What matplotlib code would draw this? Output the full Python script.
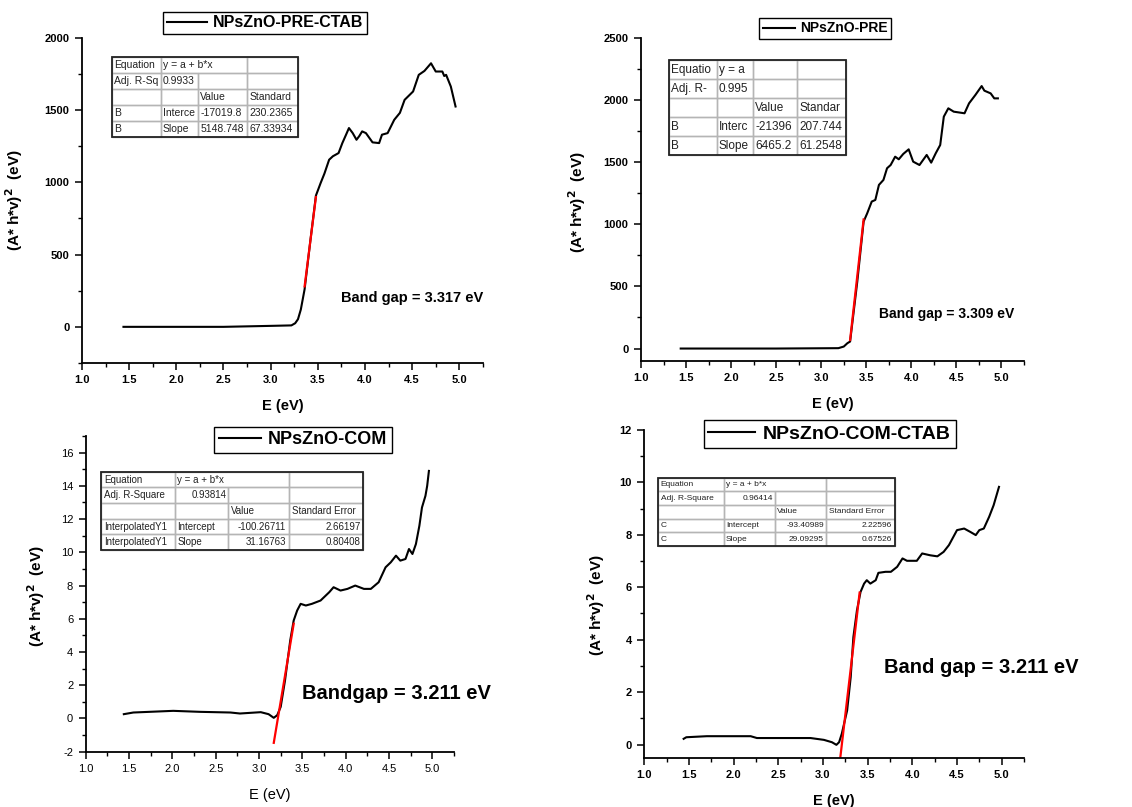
import numpy as np
import matplotlib.pyplot as plt
from matplotlib.patches import Rectangle
from matplotlib.ticker import MultipleLocator

plt.rcParams['font.family'] = ['Liberation Sans', 'DejaVu Sans']
plt.rcParams['axes.unicode_minus'] = False

# ---- NPsZnO-PRE-CTAB (top left)
e_pre_ctab = [1.44, 2.0, 2.5, 3.02, 3.22, 3.26, 3.29, 3.32, 3.34, 3.36, 3.42, 3.48, 3.53, 3.57,
              3.62, 3.66, 3.72, 3.76, 3.80, 3.83, 3.87, 3.91, 3.94, 3.97, 4.01, 4.08, 4.15,
              4.18, 4.24, 4.31, 4.37, 4.42, 4.51, 4.57, 4.63, 4.70, 4.75, 4.82, 4.84, 4.86,
              4.91, 4.96]
y_pre_ctab = [0, 0, 0, 7, 10, 25, 53, 120, 190, 260, 590, 908, 995, 1060,
              1156, 1180, 1202, 1271, 1330, 1375, 1340, 1294, 1320, 1352, 1340, 1276, 1271,
              1329, 1340, 1432, 1480, 1570, 1628, 1743, 1770, 1823, 1766, 1766, 1735, 1743,
              1662, 1524]
fit_pre_ctab = (-17019.8, 5148.748)
span_pre_ctab = (3.36, 3.48)
tab_pre_ctab = [["Equation", "y = a + b*x", "", ""],
                ["Adj. R-Sq", "0.9933", "", ""],
                ["", "", "Value", "Standard"],
                ["B", "Interce", "-17019.8", "230.2365"],
                ["B", "Slope", "5148.748", "67.33934"]]

# ---- NPsZnO-PRE (top right)
e_pre = [1.44, 2.5, 3.19, 3.25, 3.29, 3.32, 3.40, 3.47, 3.51, 3.56, 3.60, 3.64, 3.69,
         3.73, 3.77, 3.82, 3.86, 3.91, 3.97, 4.02, 4.09, 4.17, 4.22, 4.27, 4.32, 4.36,
         4.41, 4.47, 4.59, 4.64, 4.71, 4.78, 4.81, 4.88, 4.92, 4.96]
y_pre = [0, 0, 3, 16, 43, 56, 540, 1021, 1088, 1182, 1195, 1316, 1356,
         1450, 1476, 1543, 1522, 1565, 1602, 1503, 1476, 1557, 1495, 1570, 1637, 1865,
         1932, 1905, 1892, 1972, 2039, 2111, 2074, 2052, 2012, 2012]
fit_pre = (-21396, 6465.2)
span_pre = (3.32, 3.47)
tab_pre = [["Equatio", "y = a", "", ""],
           ["Adj. R-", "0.995", "", ""],
           ["", "", "Value", "Standar"],
           ["B", "Interc", "-21396", "207.744"],
           ["B", "Slope", "6465.2", "61.2548"]]

# ---- NPsZnO-COM (bottom left)
e_com = [1.44, 1.55, 2.01, 2.32, 2.67, 2.78, 3.02, 3.11, 3.17, 3.21, 3.25, 3.30, 3.36,
         3.40, 3.44, 3.48, 3.54, 3.61, 3.71, 3.81, 3.86, 3.94, 4.02, 4.11, 4.21, 4.29,
         4.38, 4.46, 4.52, 4.58, 4.63, 4.69, 4.73, 4.77, 4.81, 4.85, 4.88, 4.92, 4.94, 4.96]
y_com = [0.26, 0.36, 0.46, 0.40, 0.36, 0.30, 0.38, 0.26, 0.04, 0.2, 0.7, 2.3, 4.7,
         5.9, 6.5, 6.9, 6.8, 6.9, 7.1, 7.6, 7.9, 7.7, 7.8, 8.0, 7.8, 7.8,
         8.2, 9.1, 9.4, 9.8, 9.5, 9.6, 10.2, 9.9, 10.5, 11.6, 12.7, 13.4, 14.0, 14.9]
fit_com = (-100.26711, 31.16763)
span_com = (3.17, 3.40)
tab_com = [["Equation", "y = a + b*x", "", ""],
           ["Adj. R-Square", "0.93814", "", ""],
           ["", "", "Value", "Standard Error"],
           ["InterpolatedY1", "Intercept", "-100.26711", "2.66197"],
           ["InterpolatedY1", "Slope", "31.16763", "0.80408"]]

# ---- NPsZnO-COM-CTAB (bottom right)
e_com_ctab = [1.44, 1.47, 1.70, 2.19, 2.26, 2.86, 3.01, 3.10, 3.15, 3.18, 3.21, 3.27, 3.31,
              3.34, 3.38, 3.42, 3.46, 3.49, 3.53, 3.59, 3.62, 3.70, 3.76, 3.83, 3.89, 3.94,
              4.05, 4.11, 4.20, 4.28, 4.35, 4.41, 4.50, 4.58, 4.65, 4.71, 4.75, 4.80, 4.86,
              4.91, 4.97]
y_com_ctab = [0.22, 0.28, 0.32, 0.32, 0.25, 0.25, 0.18, 0.09, -0.01, 0.09, 0.41, 1.30, 2.57,
              4.10, 5.12, 5.82, 6.14, 6.27, 6.14, 6.27, 6.55, 6.59, 6.59, 6.78, 7.10, 7.01,
              7.01, 7.29, 7.22, 7.18, 7.35, 7.61, 8.18, 8.24, 8.11, 7.99, 8.18, 8.24, 8.69,
              9.13, 9.83]
fit_com_ctab = (-93.40989, 29.09295)
span_com_ctab = (3.195, 3.41)
tab_com_ctab = [["Equation", "y = a + b*x", "", ""],
                ["Adj. R-Square", "0.96414", "", ""],
                ["", "", "Value", "Standard Error"],
                ["C", "Intercept", "-93.40989", "2.22596"],
                ["C", "Slope", "29.09295", "0.67526"]]


def is_num(s):
    try:
        float(s)
        return True
    except ValueError:
        return False


def draw_table(ax, rows, bbox, col_w, size, num_right):
    # white background, then transparent cells so long text can spill over
    ax.add_patch(Rectangle((bbox[0], bbox[1]), bbox[2], bbox[3], transform=ax.transAxes,
                           fc='white', ec='none', zorder=2.9, clip_on=False))
    tb = ax.table(cellText=rows, bbox=bbox, colWidths=col_w, cellLoc='left', zorder=3)
    tb.auto_set_font_size(False)
    tb.set_fontsize(size)
    merge = rows[0][2] == "" and len(rows[0][1]) > 6
    for (r, c), cell in tb.get_celld().items():
        cell.set_edgecolor('#b5b5b5')
        cell.set_facecolor('none')
        cell.set_linewidth(1.0)
        cell.PAD = 0.04
        txt = cell.get_text()
        txt.set_color('#222222')
        if num_right and is_num(txt.get_text()):
            txt.set_ha('right')
        if merge and r == 0 and c == 1:
            cell.visible_edges = 'LTB'
        if merge and r == 0 and c == 2:
            cell.visible_edges = 'TBR'
    ax.add_patch(Rectangle((bbox[0], bbox[1]), bbox[2], bbox[3], transform=ax.transAxes,
                           fill=False, ec='#222222', lw=1.3, zorder=4, clip_on=False))


def style_axes(ax, ylim, ymaj, ymin, bold=True):
    ax.set_xlim(1.0, 5.25)
    ax.set_ylim(*ylim)
    for s in ['top', 'right']:
        ax.spines[s].set_visible(False)
    for s in ['left', 'bottom']:
        ax.spines[s].set_linewidth(1.3)
    ax.xaxis.set_major_locator(MultipleLocator(0.5))
    ax.xaxis.set_minor_locator(MultipleLocator(0.25))
    ax.yaxis.set_major_locator(MultipleLocator(ymaj))
    ax.yaxis.set_minor_locator(MultipleLocator(ymin))
    ax.tick_params(which='major', direction='out', length=5, width=1.1, labelsize=8, pad=4)
    ax.tick_params(which='minor', direction='out', length=3, width=1.0)
    ax.xaxis.set_major_formatter(lambda v, p: f"{v:.1f}")
    if bold:
        plt.setp(ax.get_xticklabels() + ax.get_yticklabels(), fontweight='bold')


fig = plt.figure(figsize=(11.32, 8.07), dpi=100)

panels = [
    dict(e=e_pre_ctab, y=y_pre_ctab, fit=fit_pre_ctab, span=span_pre_ctab, tab=tab_pre_ctab,
         name='NPsZnO-PRE-CTAB', rect=[0.0724, 0.5502, 0.3542, 0.4031],
         ylim=(-250, 2000), ymaj=500, ymin=250, bold=True,
         tbox=[0.0748, 0.6947, 0.4638, 0.2459], tcol=[147, 112, 146, 152], tsize=7.5, tright=False,
         leg=(0.2341, 0.9715), lsize=11.5, hlen=2.5,
         gap='Band gap = 3.317 eV', gpos=(3.75, 200), gsize=10.5,
         ylc=(-0.142, 0.5)),
    dict(e=e_pre, y=y_pre, fit=fit_pre, span=span_pre, tab=tab_pre,
         name='NPsZnO-PRE', rect=[0.5663, 0.5527, 0.3383, 0.4006],
         ylim=(-100, 2500), ymaj=500, ymin=250, bold=True,
         tbox=[0.0739, 0.6363, 0.4606, 0.2938], tcol=[144, 108, 132, 145], tsize=8.5, tright=False,
         leg=(0.7292, 0.9647), lsize=10, hlen=2.3,
         gap='Band gap = 3.309 eV', gpos=(3.645, 276), gsize=10,
         ylc=(-0.138, 0.49)),
    dict(e=e_com, y=y_com, fit=fit_com, span=span_com, tab=tab_com,
         name='NPsZnO-COM', rect=[0.0757, 0.0685, 0.3254, 0.3912],
         ylim=(-2, 17), ymaj=2, ymin=1, bold=False,
         tbox=[0.0415, 0.6389, 0.7122, 0.248], tcol=[222, 160, 181, 224], tsize=7, tright=True,
         leg=(0.2677, 0.4548), lsize=13, hlen=2.3,
         gap='Bandgap = 3.211 eV', gpos=(3.497, 1.51), gsize=14.5,
         ylc=(-0.105, 0.494)),
    dict(e=e_com_ctab, y=y_com_ctab, fit=fit_com_ctab, span=span_com_ctab, tab=tab_com_ctab,
         name='NPsZnO-COM-CTAB', rect=[0.5692, 0.0611, 0.3354, 0.4061],
         ylim=(-0.5, 12), ymaj=2, ymin=1, bold=True,
         tbox=[0.0361, 0.646, 0.6242, 0.2085], tcol=[198, 153, 153, 207], tsize=6, tright=True,
         leg=(0.7328, 0.4622), lsize=14, hlen=2.4,
         gap='Band gap = 3.211 eV', gpos=(3.688, 2.93), gsize=14.5,
         ylc=(-0.098, 0.464)),
]

for p in panels:
    ax = fig.add_axes(p['rect'])
    line, = ax.plot(p['e'], p['y'], color='black', lw=1.5, label=p['name'])
    xs = np.array(p['span'])
    ax.plot(xs, p['fit'][0] + p['fit'][1] * xs, color='red', lw=1.6)
    style_axes(ax, p['ylim'], p['ymaj'], p['ymin'], p['bold'])
    wt = 'bold' if p['bold'] else 'normal'
    ax.set_xlabel('E (eV)', fontsize=10.5, fontweight=wt, labelpad=10)
    ax.set_ylabel('(A* h*v)$^\\mathbf{2}$  (eV)', fontsize=11, fontweight='bold')
    ax.yaxis.set_label_coords(*p['ylc'])
    draw_table(ax, p['tab'], p['tbox'], p['tcol'], p['tsize'], p['tright'])
    ax.text(p['gpos'][0], p['gpos'][1], p['gap'], fontsize=p['gsize'], fontweight='bold',
            va='center', ha='left', clip_on=False)
    leg = ax.legend(handles=[line], loc='center', bbox_to_anchor=p['leg'],
                    bbox_transform=fig.transFigure, frameon=True, fancybox=False,
                    edgecolor='black', framealpha=1, prop=dict(weight='bold', size=p['lsize']),
                    handlelength=p['hlen'], borderpad=0.25, handletextpad=0.4, borderaxespad=0)
    leg.get_frame().set_linewidth(1.0)

fig.savefig('out.png', dpi=100)
